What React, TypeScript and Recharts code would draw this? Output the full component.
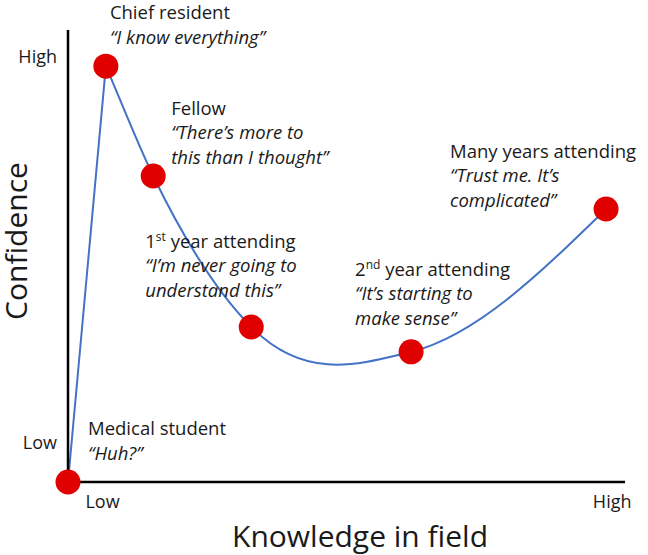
import React from 'react';
import { LineChart, Line, XAxis, YAxis, LabelList, Label } from 'recharts';

// Data (arbitrary 0-100 scale)
const knowledge = [0, 6.8, 15.3, 32.9, 61.6, 96.6];
const confidence = [0, 92.0, 67.7, 34.3, 28.8, 60.4];
const stages = ['Medical student', 'Chief resident', 'Fellow', '1st year attending', '2nd year attending', 'Many years attending'];
const quotes = [
  ['\u201cHuh?\u201d'],
  ['\u201cI know everything\u201d'],
  ['\u201cThere\u2019s more to', 'this than I thought\u201d'],
  ['\u201cI\u2019m never going to', 'understand this\u201d'],
  ['\u201cIt\u2019s starting to', 'make sense\u201d'],
  ['\u201cTrust me. It\u2019s', 'complicated\u201d'],
];
const xTickValues = [6.2, 97.7];
const xTickLabels = ['Low', 'High'];
const yTickValues = [8.8, 94.2];
const yTickLabels = ['Low', 'High'];
const xTitle = 'Knowledge in field';
const yTitle = 'Confidence';

const data = knowledge.map((k, i) => ({ k, c: confidence[i] }));

const FONT = '"Open Sans", Lato, sans-serif';
const TEXT = '#1a1a1a';
const LABEL_SIZE = 18.5;

// label offsets relative to each point (style only)
const labelOffsets = [
  [20, -47],
  [4, -47],
  [18, -61],
  [-106, -79],
  [-56, -76],
  [-156, -51],
];
const LINE_GAP = 24.5;

// custom smooth curve: Hermite with weighted slopes, sharp corner at large turns
function smoothCurve(context: any) {
  let pts: number[][] = [];
  return {
    areaStart() {},
    areaEnd() {},
    lineStart() { pts = []; },
    point(x: number, y: number) { pts.push([+x, +y]); },
    lineEnd() {
      const n = pts.length;
      if (n === 0) return;
      context.moveTo(pts[0][0], pts[0][1]);
      if (n === 1) return;
      const h: number[] = [];
      const s: number[] = [];
      for (let i = 0; i < n - 1; i++) {
        h.push(pts[i + 1][0] - pts[i][0]);
        s.push((pts[i + 1][1] - pts[i][1]) / h[i]);
      }
      const mIn: number[] = new Array(n).fill(0);
      const mOut: number[] = new Array(n).fill(0);
      for (let i = 1; i < n - 1; i++) {
        const a1 = Math.atan2(pts[i][1] - pts[i - 1][1], pts[i][0] - pts[i - 1][0]);
        const a2 = Math.atan2(pts[i + 1][1] - pts[i][1], pts[i + 1][0] - pts[i][0]);
        let turn = Math.abs(a2 - a1);
        if (turn > Math.PI) turn = 2 * Math.PI - turn;
        if (turn > Math.PI / 2) {
          mIn[i] = s[i - 1];
          mOut[i] = s[i];
        } else {
          const m = (s[i - 1] * h[i] + s[i] * h[i - 1]) / (h[i - 1] + h[i]);
          mIn[i] = m;
          mOut[i] = m;
        }
      }
      if (n === 2) {
        mOut[0] = s[0];
        mIn[1] = s[0];
      } else {
        mOut[0] = (3 * s[0] - mIn[1]) / 2;
        mIn[n - 1] = (3 * s[n - 2] - mOut[n - 2]) / 2;
      }
      for (let i = 0; i < n - 1; i++) {
        const [x0, y0] = pts[i];
        const [x1, y1] = pts[i + 1];
        const d = h[i] / 3;
        context.bezierCurveTo(x0 + d, y0 + d * mOut[i], x1 - d, y1 - d * mIn[i + 1], x1, y1);
      }
    },
  };
}

const renderStageLabel = (props: any) => {
  const { x, y, index } = props;
  if (x == null || y == null) return null;
  const [dx, dy] = labelOffsets[index];
  const lx = x + dx;
  const ly = y + dy;
  const name = stages[index];
  const m = name.match(/^(\d)(st|nd|rd|th)(.*)$/);
  return (
    <g key={`lab-${index}`}>
      <text x={lx} y={ly} fontFamily={FONT} fontSize={LABEL_SIZE} fill={TEXT}>
        {m ? (
          <>
            <tspan>{m[1]}</tspan>
            <tspan fontSize={12} dy={-7}>{m[2]}</tspan>
            <tspan dy={7}>{m[3]}</tspan>
          </>
        ) : name}
      </text>
      {quotes[index].map((q, j) => (
        <text key={j} x={lx} y={ly + LINE_GAP * (j + 1)} fontFamily={FONT} fontSize={LABEL_SIZE} fontStyle="italic" fill={TEXT}>
          {q}
        </text>
      ))}
    </g>
  );
};

export default function App() {
  return (
    <div style={{ position: 'absolute', left: 0, top: 0, background: '#fff' }}>
      <LineChart width={648} height={555} data={data} margin={{ top: 30, right: 23, bottom: 43, left: 0 }}>
        <XAxis
          dataKey="k"
          type="number"
          domain={[0, 100]}
          ticks={xTickValues}
          tickFormatter={(v: number) => xTickLabels[xTickValues.indexOf(v)]}
          height={30}
          tickLine={false}
          tickSize={0}
          tickMargin={13}
          axisLine={{ stroke: '#000', strokeWidth: 2.5 }}
          tick={{ fill: TEXT, fontFamily: FONT, fontSize: 18 }}
          interval={0}
        >
          <Label
            content={() => (
              <text x={360} y={547} textAnchor="middle" fontFamily={FONT} fontSize={30} fill={TEXT}>
                {xTitle}
              </text>
            )}
          />
        </XAxis>
        <YAxis
          dataKey="c"
          type="number"
          domain={[0, 100]}
          ticks={yTickValues}
          tickFormatter={(v: number) => yTickLabels[yTickValues.indexOf(v)]}
          width={68}
          tickLine={false}
          tickSize={0}
          tickMargin={11}
          axisLine={{ stroke: '#000', strokeWidth: 2.5 }}
          tick={{ fill: TEXT, fontFamily: FONT, fontSize: 18 }}
          interval={0}
        >
          <Label
            content={() => (
              <text
                x={0}
                y={0}
                transform="translate(27 241) rotate(-90)"
                textAnchor="middle"
                fontFamily={FONT}
                fontSize={30}
                fill={TEXT}
              >
                {yTitle}
              </text>
            )}
          />
        </YAxis>
        <Line
          dataKey="c"
          type={smoothCurve as any}
          stroke="#4472C4"
          strokeWidth={2}
          dot={{ r: 12.5, fill: '#e00000', stroke: 'none', strokeWidth: 0 }}
          activeDot={false}
          isAnimationActive={false}
        >
          <LabelList dataKey="c" content={renderStageLabel} />
        </Line>
      </LineChart>
    </div>
  );
}
